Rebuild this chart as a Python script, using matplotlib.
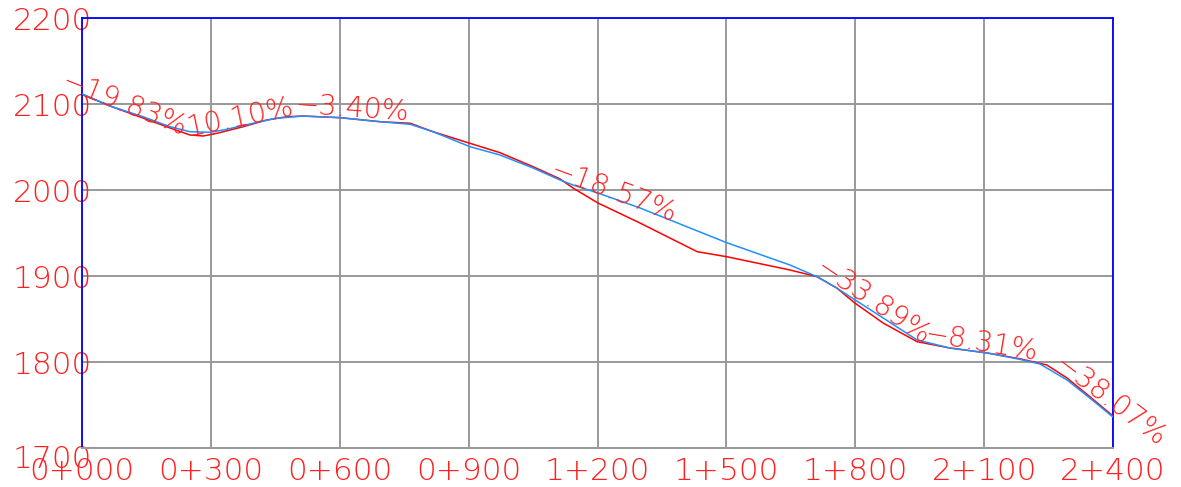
import numpy as np
import matplotlib
matplotlib.use("Agg")
from matplotlib import pyplot as plt
from matplotlib import transforms

# chainage ticks and elevation ticks
x_ticks = [0, 300, 600, 900, 1200, 1500, 1800, 2100, 2400]
x_labels = ["0+000", "0+300", "0+600", "0+900", "1+200", "1+500", "1+800", "2+100", "2+400"]
y_ticks = [1700, 1800, 1900, 2000, 2100, 2200]
y_labels = ["1700", "1800", "1900", "2000", "2100", "2200"]

# ground line (red)
ground_x = [0, 65, 142, 205, 251, 282, 314, 375, 430, 477, 514, 601, 694, 764, 817, 903,
            973, 1050, 1113, 1143, 1201, 1299, 1432, 1501, 1648, 1711, 1757, 1799, 1865,
            1944, 2020, 2107, 2183, 2246, 2293, 2346, 2400]
ground_z = [2111.6, 2097.7, 2083.7, 2072.1, 2064.0, 2062.8, 2065.9, 2073.6, 2081.4, 2085.2,
            2086.0, 2084.1, 2079.4, 2077.6, 2067.8, 2054.3, 2043.4, 2027.1, 2012.8, 2002.3,
            1984.9, 1961.6, 1928.3, 1922.4, 1907.0, 1899.2, 1886.0, 1868.6, 1845.3, 1823.6,
            1816.3, 1810.5, 1803.8, 1796.5, 1781.4, 1759.7, 1737.2]

# design line (blue)
design_x = [0, 65, 142, 205, 251, 298, 337, 414, 453, 514, 601, 694, 764, 817, 903, 973,
            1050, 1113, 1143, 1201, 1299, 1501, 1648, 1711, 1757, 1788, 1865, 1944, 2020,
            2107, 2183, 2230, 2293, 2346, 2400]
design_z = [2111.6, 2097.7, 2085.2, 2073.6, 2067.8, 2067.1, 2070.6, 2079.4, 2083.4, 2086.0,
            2084.1, 2079.4, 2076.4, 2067.8, 2050.4, 2040.7, 2025.6, 2011.6, 2005.8, 1996.5,
            1979.1, 1938.7, 1912.8, 1899.2, 1886.0, 1875.9, 1851.2, 1825.6, 1816.3, 1810.5,
            1803.1, 1797.7, 1779.1, 1758.1, 1736.0]

# grades and where their labels sit
grades = [-19.83, 10.10, -3.40, -18.57, -33.89, -8.31, -38.07]
grade_text = ["\u221219.83%", "10.10%", "\u22123.40%", "\u221218.57%",
              "\u221233.89%", "\u22128.31%", "\u221238.07%"]
grade_x = [100, 368, 629, 1238, 1841, 2095, 2393]
grade_z = [2098.8, 2084.9, 2094.0, 1996.5, 1868.6, 1821.0, 1753.5]

plt.rcParams['font.family'] = ['DejaVu Sans']

fig = plt.figure(figsize=(11.81, 4.87), dpi=100)
ax = fig.add_axes([82 / 1181, 1 - 448 / 487, 1031 / 1181, 430 / 487])

ax.set_xlim(0, 2400)
ax.set_ylim(1700, 2200)

ax.set_xticks(x_ticks)
ax.set_xticklabels(x_labels)
ax.set_yticks(y_ticks)
ax.set_yticklabels(y_labels)
ax.tick_params(axis='both', length=0, labelcolor='#ff2020', labelsize=22.5)
ax.tick_params(axis='y', pad=-7)
ax.tick_params(axis='x', pad=6.5)
for lab in ax.get_xticklabels() + ax.get_yticklabels():
    lab.set_fontweight('light')

# bottom elevation label sits a bit lower
lab0 = ax.get_yticklabels()[0]
lab0.set_transform(lab0.get_transform() + transforms.ScaledTranslation(0, -8 / 100, fig.dpi_scale_trans))

ax.grid(True, color='#999999', linewidth=1.4)
ax.set_axisbelow(True)

for side in ['top', 'left', 'right']:
    ax.spines[side].set_color('#0000ff')
    ax.spines[side].set_linewidth(1.3)
ax.spines['bottom'].set_color('#999999')
ax.spines['bottom'].set_linewidth(1.4)

ax.plot(ground_x, ground_z, color='#ff0000', linewidth=1.1, zorder=3)
ax.plot(design_x, design_z, color='#1e90ff', linewidth=1.1, zorder=4)

for g, s, gx, gz in zip(grades, grade_text, grade_x, grade_z):
    ang = np.degrees(np.arctan(g / 100.0))
    ax.text(gx, gz, s, color='#ff2020', fontsize=20.5, fontweight='light',
            ha='center', va='center', rotation=ang, rotation_mode='anchor',
            transform_rotates_text=True, zorder=5)

fig.savefig("out.png", dpi=100)
